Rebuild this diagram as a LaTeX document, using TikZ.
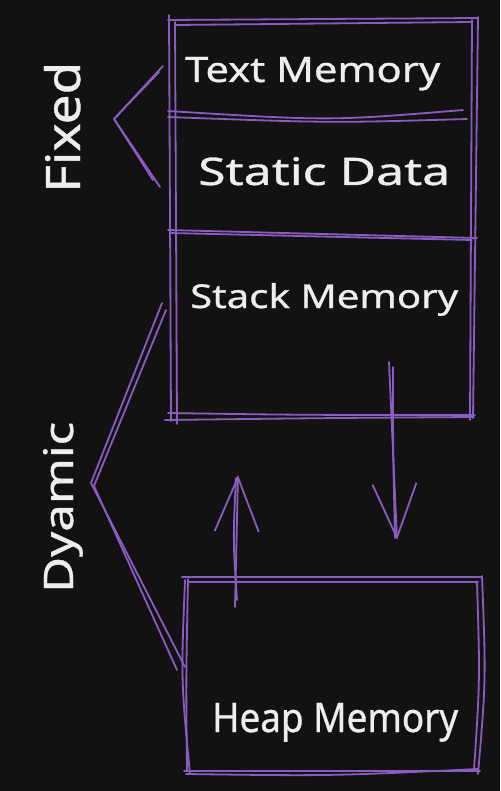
\documentclass[tikz,border=0pt]{standalone}
\usepackage{fontspec}
\setmainfont{Noto Sans}[FakeBold=0.8]
\usetikzlibrary{arrows.meta}
\definecolor{bg}{HTML}{121212}
\definecolor{pur}{HTML}{8A5CC2}
\definecolor{ink}{HTML}{EEEEEE}
\newcommand\fitt[3]{\resizebox{#1pt}{#2pt}{#3}}
\tikzset{
  sk/.style={draw=pur, line width=1.8pt, line cap=round, line join=round},
  lbl/.style={text=ink, inner sep=0pt, anchor=base west},
  arr/.style={sk, -{Straight Barb[length=54pt,width=44pt,line width=1.8pt]}},
}
\begin{document}
\begin{tikzpicture}[x=1pt,y=-1pt]
\fill[bg] (0,0) rectangle (500,791);
\useasboundingbox (0,0) rectangle (500,791);

% main box (sketchy double strokes)
\draw[sk] (168,20) -- (478,18);
\draw[sk] (176,25) -- (472,22);
\draw[sk] (169,15) -- (171,421);
\draw[sk] (175,22) -- (177,424);
\draw[sk] (478,17) -- (473,418);
\draw[sk] (472,20) -- (470,420);
\draw[sk] (168,413) .. controls (300,415) .. (475,415);
\draw[sk] (165,420) .. controls (330,418) .. (474,417);
% dividers
\draw[sk] (168,111) .. controls (330,121) .. (463,110);
\draw[sk] (168,117) .. controls (330,123) .. (467,119);
\draw[sk] (168,230) -- (477,238);
\draw[sk] (170,233) -- (472,240);

% heap box
\draw[sk] (182,577) -- (482,577);
\draw[sk] (188,582) -- (478,582);
\draw[sk] (185,580) .. controls (181,680) .. (190,774);
\draw[sk] (188,579) .. controls (186,680) .. (187,770);
\draw[sk] (482,576) .. controls (486,680) .. (478,774);
\draw[sk] (477,582) .. controls (480,680) .. (474,770);
\draw[sk] (184,771) -- (480,771);
\draw[sk] (186,774) .. controls (330,776) .. (478,769);

% labels
\node[lbl] (txt) at (185,82) {\fitt{255}{25}{Text Memory}};
\node[lbl] (sta) at (198,185) {\fitt{252}{28}{Static Data}};
\node[lbl] (stk) at (190,308) {\fitt{268}{25}{Stack Memory}};
\node[lbl] (hea) at (212,732) {\fitt{246}{29}{Heap Memory}};
\node[lbl, rotate=90] (fix) at (80,193) {\fitt{131}{36}{Fixed}};
\node[lbl, rotate=90] (dyn) at (73,593) {\fitt{171}{30}{Dyamic}};

% bracket coordinates
\coordinate (f1) at (163,66);
\coordinate (f1b) at (159,72);
\coordinate (fa) at (114,119);
\coordinate (f2) at (160,187);
\coordinate (f2b) at (153,180);
\draw[sk] (f1) -- (fa) -- (f2);
\draw[sk] (f1b) -- (fa) -- (f2b);

\coordinate (d1) at (162,303);
\coordinate (d1b) at (166,310);
\coordinate (da) at (91,483);
\coordinate (da2) at (94,486);
\coordinate (d2) at (185,667);
\coordinate (d2b) at (177,670);
\draw[sk] (d1) -- (da) -- (d2);
\draw[sk] (d1b) -- (da2) -- (d2b);

% arrows
\coordinate (s1) at (389,362);
\coordinate (t1) at (397,540);
\coordinate (s1b) at (393,367);
\coordinate (t1b) at (395,538);
\draw[arr] (s1) -- (t1);
\draw[sk] (s1b) .. controls (393,450) .. (t1b);

\coordinate (s2) at (235,607);
\coordinate (t2) at (238,475);
\coordinate (s2b) at (237,600);
\coordinate (t2b) at (236,478);
\draw[arr] (s2) -- (t2);
\draw[sk] (s2b) .. controls (233,540) .. (t2b);
\end{tikzpicture}
\end{document}
